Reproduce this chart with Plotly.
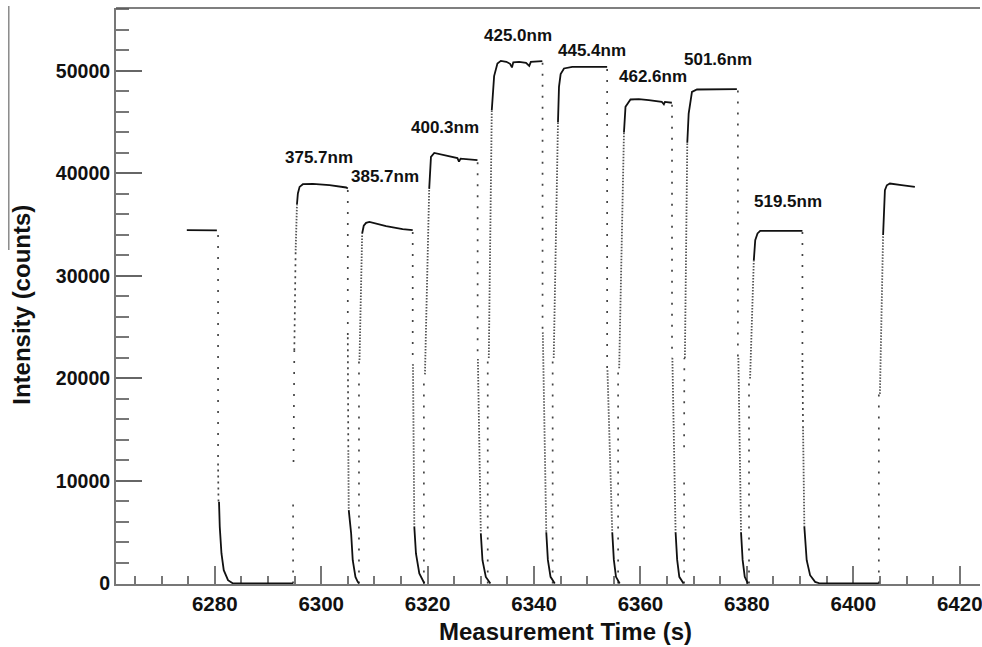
import plotly.graph_objects as go

N = None
# Solid (continuous) parts of the trace: plateaus and decay tails (None separates pieces)
solid_t = [6274.75, 6280.4, N,
           6280.8, 6280.94, 6281.26, 6281.69, 6282.49, 6283.43, 6294.7, N,
           6295.45, 6295.62, 6295.94, 6296.56, 6298.43, 6301.56, 6304.7, 6305.0, N,
           6305.18, 6305.63, 6305.93, 6306.44, 6306.87, 6307.1, N,
           6307.7, 6308.0, 6308.44, 6309.06, 6312.2, 6315.3, 6317.2, N,
           6317.5, 6317.81, 6318.44, 6319.19, 6319.4, N,
           6320.3, 6320.63, 6321.25, 6323.44, 6325.6, 6325.9, 6326.2, 6329.37, N,
           6330.0, 6330.31, 6330.94, 6331.56, 6331.8, N,
           6332.06, 6332.5, 6333.12, 6333.76, 6334.8, 6335.5, 6335.85, 6336.1, 6337.2, 6338.5, 6339.1, 6339.4, 6341.56, N,
           6342.3, 6342.6, 6343.1, 6343.6, 6343.9, N,
           6344.5, 6344.69, 6345.0, 6345.63, 6347.18, 6353.74, N,
           6354.7, 6355.0, 6355.4, 6355.9, 6356.1, N,
           6356.9, 6357.19, 6358.13, 6359.69, 6361.56, 6364.0, 6364.4, 6364.6, 6365.9, N,
           6366.6, 6366.9, 6367.3, 6367.8, 6368.1, N,
           6368.8, 6369.06, 6369.68, 6370.62, 6378.12, N,
           6378.9, 6379.2, 6379.6, 6380.0, 6380.2, N,
           6381.3, 6381.57, 6382.0, 6382.5, 6390.44, N,
           6390.8, 6391.24, 6391.88, 6392.82, 6393.76, 6404.8, N,
           6405.6, 6405.94, 6406.3, 6406.88, 6409.06, 6411.57]
solid_counts = [34470, 34450, N,
                7960, 5522, 2927, 1298, 322, 0, 0, N,
                37000, 38048, 38692, 38955, 38985, 38858, 38634, 38536, N,
                7150, 4878, 2273, 644, 156, 0, N,
                34146, 34900, 35180, 35278, 34858, 34565, 34468, N,
                5522, 2927, 976, 224, 0, N,
                38500, 41620, 42010, 41790, 41500, 41150, 41450, 41300, N,
                4878, 2273, 644, 156, 0, N,
                46170, 49500, 50730, 50985, 50900, 50700, 50350, 50850, 50890, 50800, 50500, 50880, 50960, N,
                5000, 2300, 650, 156, 0, N,
                45000, 48450, 49700, 50245, 50400, 50400, N,
                5000, 2300, 650, 156, 0, N,
                44000, 46500, 47220, 47250, 47150, 47000, 46750, 46980, 46900, N,
                5000, 2300, 650, 156, 0, N,
                43000, 45850, 47960, 48195, 48225, N,
                5000, 2300, 650, 156, 0, N,
                31500, 33490, 34150, 34400, 34400, N,
                5522, 2273, 810, 156, 0, 0, N,
                34000, 38370, 38850, 39024, 38858, 38692]

# Sparse sample points during fast switching
sparse_t = [6280.62, 6280.62, N,
            6294.72, 6294.72, N, 6294.8, 6294.95, N,
            6305.0, 6305.0, N,
            6307.1, 6307.1, N,
            6317.2, 6317.2, N,
            6319.3, 6319.3, N,
            6329.4, 6329.4, N,
            6331.3, 6331.3, N,
            6341.6, 6341.6, N,
            6343.5, 6343.5, N,
            6353.74, 6353.74, N,
            6355.8, 6355.8, N,
            6365.93, 6365.93, N,
            6368.2, 6368.2, N, 6368.2, 6368.25, N,
            6378.31, 6378.31, N,
            6380.4, 6380.4, N,
            6390.44, 6390.44, N,
            6404.8, 6404.8]
sparse_counts = [34000, 11700, N,
                 0, 8100, N, 11860, 22760, N,
                 38400, 24030, N,
                 0, 21800, N,
                 34300, 21400, N,
                 0, 20400, N,
                 41100, 21900, N,
                 0, 22000, N,
                 50800, 24500, N,
                 0, 22000, N,
                 50200, 20800, N,
                 0, 21000, N,
                 46700, 22000, N,
                 0, 9900, N, 13300, 22000, N,
                 48100, 22000, N,
                 0, 20000, N,
                 34300, 21800, N,
                 0, 18500]

# Medium-density sample points
medium_t = [6280.62, 6280.7, N, 6294.95, 6295.2, N, 6305.0, 6305.1, N, 6390.44, 6390.55]
medium_counts = [11700, 7960, N, 22760, 32500, N, 24030, 13000, N, 21800, 15300]

# Dense sample points (slow parts of the transitions)
dense_t = [6295.2, 6295.45, N,
           6305.1, 6305.18, N,
           6307.2, 6307.7, N,
           6317.25, 6317.5, N,
           6319.5, 6320.0, 6320.3, N,
           6329.45, 6330.0, N,
           6331.5, 6332.06, N,
           6341.65, 6342.3, N,
           6343.7, 6344.5, N,
           6353.8, 6354.7, N,
           6356.0, 6356.9, N,
           6366.0, 6366.6, N,
           6368.35, 6368.8, N,
           6378.4, 6378.9, N,
           6380.6, 6381.3, N,
           6390.55, 6390.8, N,
           6405.0, 6405.6]
dense_counts = [32500, 37000, N,
                13000, 7150, N,
                21800, 34146, N,
                21400, 5522, N,
                20400, 33000, 38500, N,
                21900, 4878, N,
                22000, 46170, N,
                24500, 5000, N,
                22000, 45000, N,
                20800, 5000, N,
                21000, 44000, N,
                22000, 5000, N,
                22000, 43000, N,
                22000, 5000, N,
                20000, 31500, N,
                15300, 5522, N,
                18500, 34000]

wavelength_labels = ["375.7nm", "385.7nm", "400.3nm", "425.0nm", "445.4nm",
                     "462.6nm", "501.6nm", "519.5nm"]
label_t = [6299.6, 6311.9, 6323.3, 6336.9, 6350.8, 6362.3, 6374.6, 6387.7]
label_counts = [41560, 39670, 44490, 53425, 51960, 49490, 51120, 37230]

FONT = "Liberation Sans, Arial, Helvetica, sans-serif"

fig = go.Figure()
fig.add_trace(go.Scatter(x=sparse_t, y=sparse_counts, mode="lines", hoverinfo="skip",
                         line=dict(color="#444444", width=1.7, dash="2px,9px")))
fig.add_trace(go.Scatter(x=medium_t, y=medium_counts, mode="lines", hoverinfo="skip",
                         line=dict(color="#444444", width=1.7, dash="2px,4px")))
fig.add_trace(go.Scatter(x=dense_t, y=dense_counts, mode="lines", hoverinfo="skip",
                         line=dict(color="#555555", width=1.8, dash="1.5px,1.5px")))
fig.add_trace(go.Scatter(x=solid_t, y=solid_counts, mode="lines", hoverinfo="skip",
                         line=dict(color="#111111", width=1.8)))

for txt, tx, ty in zip(wavelength_labels, label_t, label_counts):
    fig.add_annotation(x=tx, y=ty, text=txt, showarrow=False,
                       xanchor="center", yanchor="middle",
                       font=dict(family=FONT, size=17, color="#111111", weight="bold"))

fig.add_annotation(xref="paper", yref="paper", x=-0.1091, y=0.4844,
                   text="Intensity (counts)", textangle=-90, showarrow=False,
                   xanchor="center", yanchor="middle",
                   font=dict(family=FONT, size=24, color="#111111", weight="bold"))
fig.add_annotation(xref="paper", yref="paper", x=0.5202, y=-0.0816,
                   text="Measurement Time (s)", showarrow=False,
                   xanchor="center", yanchor="middle",
                   font=dict(family=FONT, size=24, color="#111111", weight="bold"))

fig.add_shape(type="line", xref="paper", yref="paper", x0=0, x1=1, y0=1, y1=1,
              line=dict(color="#555555", width=1.5))
fig.add_shape(type="line", xref="paper", yref="paper", x0=-0.1241, x1=-0.1241,
              y0=1.0035, y1=0.58, line=dict(color="#8a8a8a", width=1.5))

ytickfont = dict(family=FONT, size=19.5, color="#111111", weight="bold")
xtickfont = dict(family=FONT, size=20.5, color="#111111", weight="bold")
fig.update_layout(
    width=982, height=647,
    margin=dict(l=116, r=0, t=8, b=63),
    paper_bgcolor="white", plot_bgcolor="white",
    showlegend=False,
    xaxis=dict(range=[6261.44, 6423.81], showgrid=False, zeroline=False,
               showline=True, linecolor="#777777", linewidth=2,
               ticks="inside", ticklen=18, tickwidth=1.5, tickcolor="#777777",
               tick0=6280, dtick=20, tickfont=xtickfont, ticklabeloverflow="allow",
               minor=dict(ticks="inside", ticklen=8, tickwidth=1.5, tickcolor="#777777",
                          dtick=5, tick0=6280, showgrid=False),
               layer="below traces"),
    yaxis=dict(range=[-50, 56145], showgrid=False, zeroline=False,
               showline=True, linecolor="#777777", linewidth=2,
               ticks="inside", ticklen=26, tickwidth=1.5, tickcolor="#666666",
               tick0=0, dtick=10000, tickformat="d", tickfont=ytickfont,
               minor=dict(ticks="inside", ticklen=13, tickwidth=1.5, tickcolor="#777777",
                          dtick=2000, tick0=0, showgrid=False),
               layer="below traces"),
)

fig.write_html("out.html")
